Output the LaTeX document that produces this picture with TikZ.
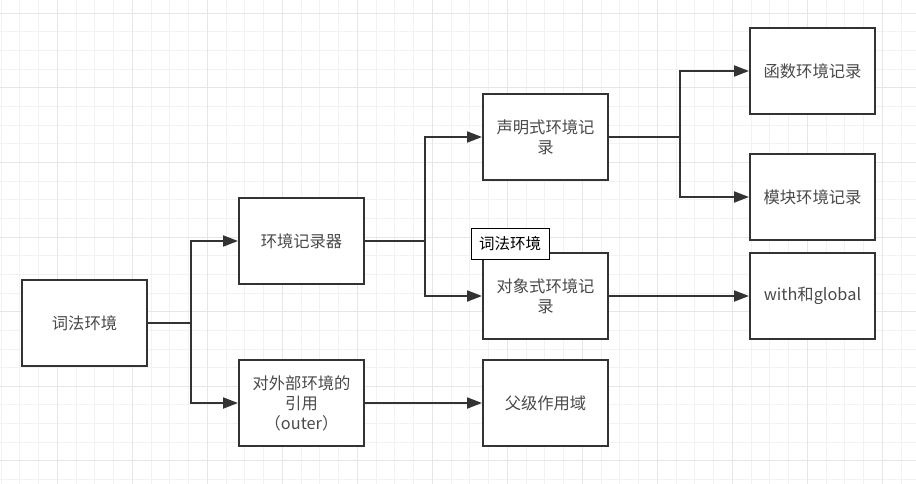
\documentclass[tikz,border=0pt]{standalone}
\usepackage{fontspec}
\setmainfont{Noto Sans CJK SC}
\usetikzlibrary{arrows.meta}
\definecolor{gridminor}{HTML}{F2F2F2}
\definecolor{gridmajor}{HTML}{E6E6E6}
\definecolor{linec}{HTML}{333333}
\definecolor{textc}{HTML}{4A4A4A}
\tikzset{
  box/.style={draw=linec, line width=2pt, fill=white, rectangle, minimum width=125pt, minimum height=86pt, inner sep=0pt, align=center, text=textc, font=\fontsize{16.3}{20}\selectfont},
  conn/.style={draw=linec, line width=2pt},
  arr/.style={conn, -{Triangle[length=15pt,width=11pt]}},
  tag/.style={draw=black, line width=0.8pt, fill=white, rectangle, minimum width=78pt, minimum height=31pt, inner sep=0pt, text=black, font=\fontsize{15.5}{18}\selectfont}
}
\begin{document}
\begin{tikzpicture}[x=1pt,y=-1pt]
\useasboundingbox (0,0) rectangle (916,484);
\fill[white] (0,0) rectangle (916,484);
% grid
\foreach \i in {0,...,49} {
  \pgfmathsetmacro{\gx}{1+18.75*\i}
  \draw[gridminor, line width=1pt] (\gx,0) -- (\gx,484);
}
\foreach \i in {0,...,26} {
  \pgfmathsetmacro{\gy}{13.3-18.65+18.65*\i}
  \draw[gridminor, line width=1pt] (0,\gy) -- (916,\gy);
}
\foreach \i in {0,...,12} {
  \pgfmathsetmacro{\gx}{57.3+75*\i-75}
  \draw[gridmajor, line width=1pt] (\gx,0) -- (\gx,484);
}
\foreach \i in {0,...,7} {
  \pgfmathsetmacro{\gy}{13.3+74.6*\i}
  \draw[gridmajor, line width=1pt] (0,\gy) -- (916,\gy);
}
% nodes
\node[box] (lex) at (84.5,323) {词法环境};
\node[box] (env) at (301.5,241) {环境记录器};
\node[box] (outer) at (301.5,403) {对外部环境的\\引用\\（outer）};
\node[box] (decl) at (545.5,137) {声明式环境记\\录};
\node[box] (obj) at (545.5,296) {对象式环境记\\录};
\node[box] (parent) at (545.5,403) {父级作用域};
\node[box] (func) at (812.5,71) {函数环境记录};
\node[box] (mod) at (812.5,197) {模块环境记录};
\node[box] (with) at (812.5,296) {with和global};
\coordinate (j1) at (191,323);
\coordinate (j2) at (425,241);
\coordinate (j3) at (680,137);
% connectors
\draw[conn] (lex.east) -- (j1);
\draw[arr] (j1) |- (env.west);
\draw[arr] (j1) |- (outer.west);
\draw[conn] (env.east) -- (j2);
\draw[arr] (j2) |- (decl.west);
\draw[arr] (j2) |- (obj.west);
\draw[conn] (decl.east) -- (j3);
\draw[arr] (j3) |- (func.west);
\draw[arr] (j3) |- (mod.west);
\draw[arr] (obj.east) -- (with.west);
\draw[arr] (outer.east) -- (parent.west);
% label
\node[tag] (lbl) at (510,243.5) {词法环境};
\end{tikzpicture}
\end{document}
